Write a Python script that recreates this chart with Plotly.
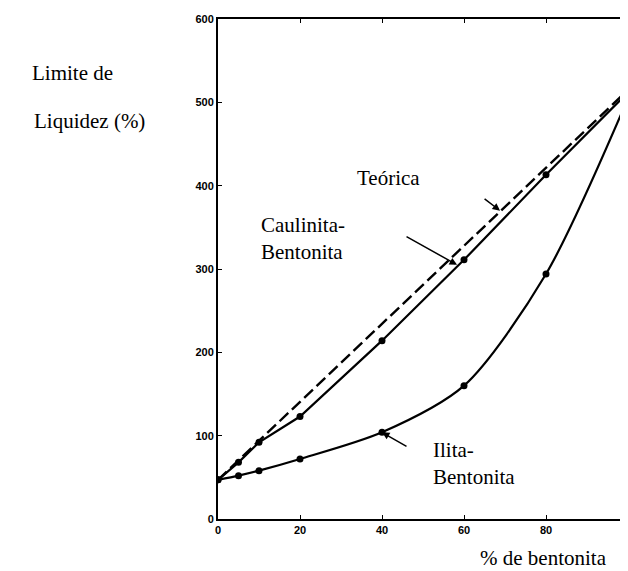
import plotly.graph_objects as go

# Data
bentonita = [0, 5, 10, 20, 40, 60, 80, 100]
caulinita = [47, 68, 92, 123, 214, 311, 413, 512]
ilita = [47, 52, 58, 72, 104, 160, 294, 505]
teorica_x = [0, 100]
teorica_y = [47, 515]

x_ticks = [0, 20, 40, 60, 80]
y_ticks = [0, 100, 200, 300, 400, 500, 600]

serif = "Liberation Serif"

fig = go.Figure()
fig.add_trace(go.Scatter(x=teorica_x, y=teorica_y, mode="lines",
                         line=dict(color="black", width=2.4, dash="12px,5px"),
                         showlegend=False))
fig.add_trace(go.Scatter(x=bentonita, y=caulinita, mode="lines+markers",
                         line=dict(color="black", width=2.2),
                         marker=dict(color="black", size=7),
                         showlegend=False))
fig.add_trace(go.Scatter(x=bentonita, y=ilita, mode="lines+markers",
                         line=dict(color="black", width=2.2, shape="spline", smoothing=0.8),
                         marker=dict(color="black", size=7),
                         showlegend=False))

annos = []
# text labels
annos.append(dict(x=41.7, y=409, xref="x", yref="y", text="Teórica", showarrow=False,
                  font=dict(family=serif, size=21, color="black")))
annos.append(dict(x=10.0, y=337, xref="x", yref="y", text="Caulinita-<br>Bentonita",
                  showarrow=False, xanchor="left", align="left",
                  font=dict(family=serif, size=21, color="black")))
annos.append(dict(x=52.0, y=67, xref="x", yref="y", text="Ilita-<br>Bentonita",
                  showarrow=False, xanchor="left", align="left",
                  font=dict(family=serif, size=21, color="black")))
# arrows
annos.append(dict(x=58.3, y=305, xref="x", yref="y", text="", showarrow=True,
                  ax=-52, ay=-29, arrowhead=2, arrowsize=1, arrowwidth=1.5, arrowcolor="black"))
annos.append(dict(x=68.8, y=370, xref="x", yref="y", text="", showarrow=True,
                  ax=-17, ay=-13, arrowhead=2, arrowsize=1, arrowwidth=1.5, arrowcolor="black"))
annos.append(dict(x=40, y=104, xref="x", yref="y", text="", showarrow=True,
                  ax=26, ay=15, arrowhead=2, arrowsize=1, arrowwidth=1.5, arrowcolor="black"))
# axis titles
annos.append(dict(x=-0.458, y=0.892, xref="paper", yref="paper", text="Limite de",
                  showarrow=False, xanchor="left", yanchor="middle",
                  font=dict(family=serif, size=21, color="black")))
annos.append(dict(x=-0.453, y=0.796, xref="paper", yref="paper", text="Liquidez (%)",
                  showarrow=False, xanchor="left", yanchor="middle",
                  font=dict(family=serif, size=21, color="black")))
annos.append(dict(x=0.634, y=-0.078, xref="paper", yref="paper", text="% de bentonita",
                  showarrow=False, xanchor="left", yanchor="middle",
                  font=dict(family=serif, size=21, color="black")))

fig.update_layout(
    width=620, height=563,
    margin=dict(l=210, r=0, t=11, b=52),
    paper_bgcolor="white", plot_bgcolor="white",
    annotations=annos,
    xaxis=dict(range=[0, 100], tickvals=x_ticks, ticktext=[str(v) for v in x_ticks],
               showgrid=False, zeroline=False, showline=True, linecolor="black", linewidth=2,
               mirror="ticks", ticks="inside", ticklen=4, tickcolor="black", tickwidth=1,
               tickfont=dict(family="Liberation Sans", size=11, color="black", weight="bold")),
    yaxis=dict(range=[0, 600], tickvals=y_ticks, ticktext=[str(v) for v in y_ticks],
               showgrid=False, zeroline=False, showline=True, linecolor="black", linewidth=2,
               ticks="inside", ticklen=4, tickcolor="black", tickwidth=1,
               tickfont=dict(family="Liberation Sans", size=11, color="black", weight="bold")),
)

fig.write_html("out.html")
